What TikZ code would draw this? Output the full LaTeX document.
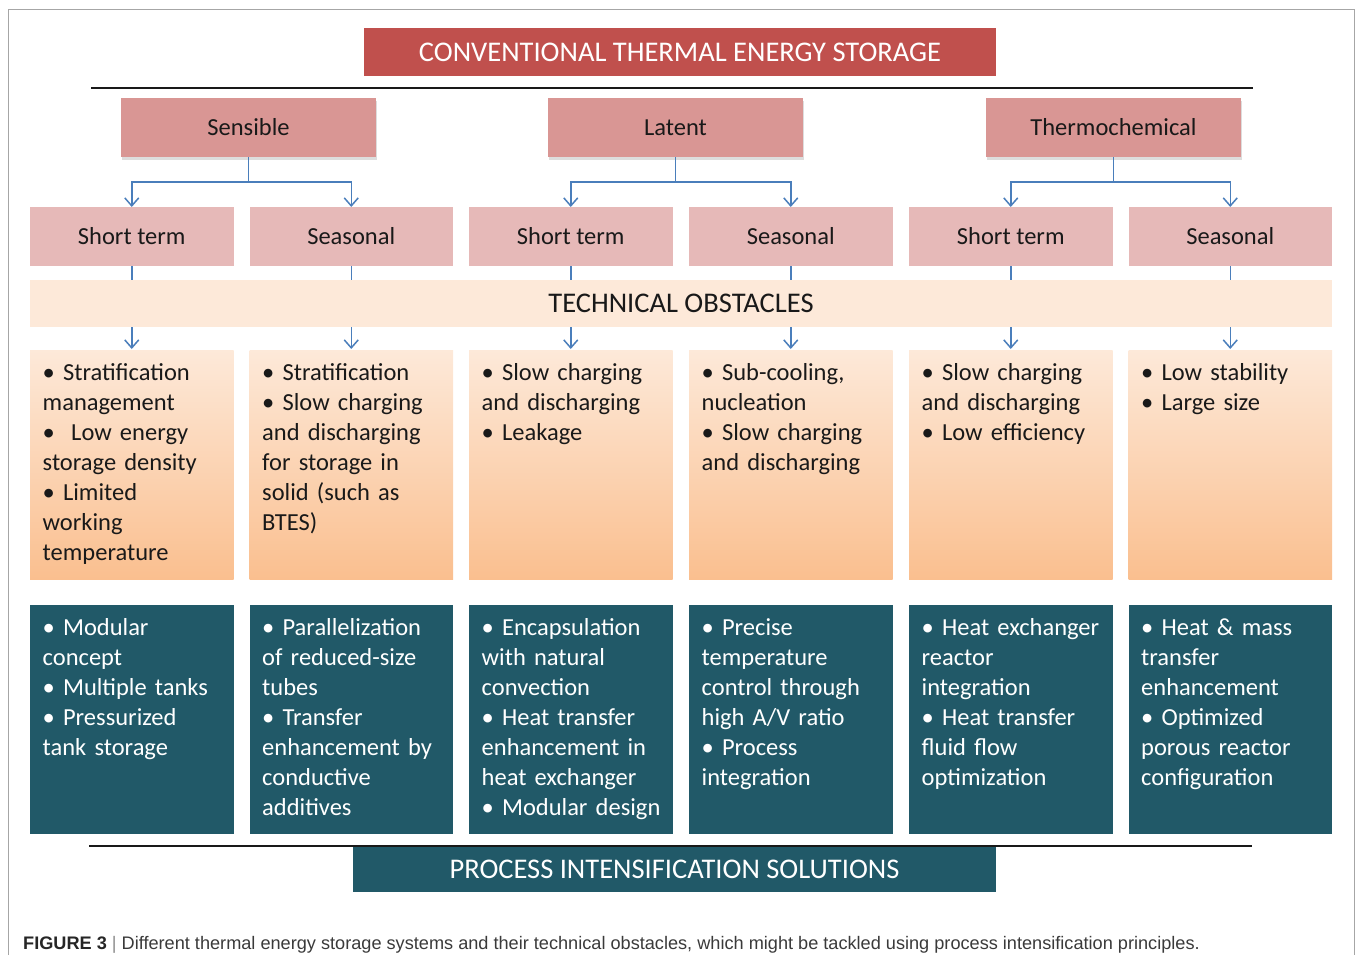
\documentclass[tikz,border=0pt]{standalone}
\usepackage{fontspec}
\setmainfont{Carlito}
\newfontfamily\capfont{Liberation Sans}
\usetikzlibrary{arrows.meta,shadows}
\definecolor{titlered}{HTML}{C0504D}
\definecolor{lvlone}{HTML}{D99694}
\definecolor{lvltwo}{HTML}{E6B9B8}
\definecolor{bandcol}{HTML}{FDE9D9}
\definecolor{gradtop}{HTML}{FDE9D9}
\definecolor{gradbot}{HTML}{FABF8F}
\definecolor{darkteal}{HTML}{215968}
\definecolor{conncol}{HTML}{4A7EBB}
\definecolor{framegray}{HTML}{A6A6A6}
\definecolor{captext}{HTML}{3A3A3A}
\newcommand\mybodyfont{\fontsize{24.5}{30}\selectfont}
\newcommand\myheadfont{\fontsize{28.5}{34}\selectfont}
\begin{document}
\begin{tikzpicture}[x=1pt,y=-1pt,
  base/.style={anchor=north west, inner sep=0pt, outer sep=0pt, draw=none},
  titlebox/.style={base, fill=titlered, text=white, font=\myheadfont, minimum width=632pt, minimum height=48pt},
  levelone/.style={base, fill=lvlone, text=black!90, font=\mybodyfont, minimum width=255pt, minimum height=59pt,
    drop shadow={shadow xshift=1pt, shadow yshift=-3pt, opacity=0.22, fill=black!60}},
  leveltwo/.style={base, fill=lvltwo, text=black!90, font=\mybodyfont, minimum width=203.5pt, minimum height=59pt},
  bandbox/.style={base, fill=bandcol, text=black!90, font=\myheadfont, minimum width=1302pt, minimum height=47pt},
  obox/.style={base, top color=gradtop, bottom color=gradbot, minimum width=203.5pt, minimum height=229pt},
  sbox/.style={base, fill=darkteal, minimum width=203.5pt, minimum height=229pt},
  otext/.style={anchor=base west, inner sep=0pt, text width=250pt, align=left, font=\mybodyfont, text=black!90},
  stext/.style={otext, text=white},
  bottombox/.style={base, fill=darkteal, text=white, font=\myheadfont, minimum width=643pt, minimum height=45pt},
  conn/.style={draw=conncol, line width=1.5pt},
  arr/.style={conn, -{Straight Barb[length=8pt,width=14pt]}},
  rule/.style={draw=black!90, line width=2pt}
]
\useasboundingbox (0,0) rectangle (1356,955);
\draw[framegray, line width=1pt] (8,955) -- (8,10) -- (1354,10) -- (1354,955);

% title
\node[titlebox] (title) at (364,28) {CONVENTIONAL THERMAL ENERGY STORAGE};
\coordinate (r1a) at (91,88);
\coordinate (r1b) at (1253,88);
\draw[rule] (r1a) -- (r1b);

% level one
\node[levelone] (sens) at (121,98) {Sensible};
\node[levelone] (lat) at (548,98) {Latent};
\node[levelone] (thermo) at (986,98) {Thermochemical};

% level two
\node[leveltwo] (s1) at (30,207) {Short term};
\node[leveltwo] (s2) at (249.5,207) {Seasonal};
\node[leveltwo] (s3) at (469,207) {Short term};
\node[leveltwo] (s4) at (689,207) {Seasonal};
\node[leveltwo] (s5) at (909,207) {Short term};
\node[leveltwo] (s6) at (1128.5,207) {Seasonal};

\draw[arr] (sens.south) -- ++(0,25) -| (s1.north);
\draw[arr] (sens.south) -- ++(0,25) -| (s2.north);
\draw[arr] (lat.south) -- ++(0,25) -| (s3.north);
\draw[arr] (lat.south) -- ++(0,25) -| (s4.north);
\draw[arr] (thermo.south) -- ++(0,25) -| (s5.north);
\draw[arr] (thermo.south) -- ++(0,25) -| (s6.north);

% band
\node[bandbox] (band) at (30,280) {TECHNICAL OBSTACLES};

% obstacle boxes
\node[obox] (o1) at (30,350) {};
\node[obox] (o2) at (249.5,350) {};
\node[obox] (o3) at (469,350) {};
\node[obox] (o4) at (689,350) {};
\node[obox] (o5) at (909,350) {};
\node[obox] (o6) at (1128.5,350) {};

\foreach \i in {1,...,6}{
  \draw[conn] (s\i.south) -- (s\i.south |- band.north);
  \draw[arr, shorten >=1pt] (band.south -| o\i.north) -- (o\i.north);
}

\node[otext] (ot1) at ([shift={(12.5pt,-30pt)}]o1.north west) {\textbullet{} Stratification\\management\\\textbullet{}\ \ Low energy\\storage density\\\textbullet{} Limited\\working\\temperature};
\node[otext] (ot2) at ([shift={(12.5pt,-30pt)}]o2.north west) {\textbullet{} Stratification\\\textbullet{} Slow charging\\and discharging\\for storage in\\solid (such as\\BTES)};
\node[otext] (ot3) at ([shift={(12.5pt,-30pt)}]o3.north west) {\textbullet{} Slow charging\\and discharging\\\textbullet{} Leakage};
\node[otext] (ot4) at ([shift={(12.5pt,-30pt)}]o4.north west) {\textbullet{} Sub-cooling,\\nucleation\\\textbullet{} Slow charging\\and discharging};
\node[otext] (ot5) at ([shift={(12.5pt,-30pt)}]o5.north west) {\textbullet{} Slow charging\\and discharging\\\textbullet{} Low efficiency};
\node[otext] (ot6) at ([shift={(12.5pt,-30pt)}]o6.north west) {\textbullet{} Low stability\\\textbullet{} Large size};

% solution boxes
\node[sbox] (p1) at (30,605) {};
\node[sbox] (p2) at (249.5,605) {};
\node[sbox] (p3) at (469,605) {};
\node[sbox] (p4) at (689,605) {};
\node[sbox] (p5) at (909,605) {};
\node[sbox] (p6) at (1128.5,605) {};

\node[stext] (pt1) at ([shift={(12.5pt,-30pt)}]p1.north west) {\textbullet{} Modular\\concept\\\textbullet{} Multiple tanks\\\textbullet{} Pressurized\\tank storage};
\node[stext] (pt2) at ([shift={(12.5pt,-30pt)}]p2.north west) {\textbullet{} Parallelization\\of reduced-size\\tubes\\\textbullet{} Transfer\\enhancement by\\conductive\\additives};
\node[stext] (pt3) at ([shift={(12.5pt,-30pt)}]p3.north west) {\textbullet{} Encapsulation\\with natural\\convection\\\textbullet{} Heat transfer\\enhancement in\\heat exchanger\\\textbullet{} Modular design};
\node[stext] (pt4) at ([shift={(12.5pt,-30pt)}]p4.north west) {\textbullet{} Precise\\temperature\\control through\\high A/V ratio\\\textbullet{} Process\\integration};
\node[stext] (pt5) at ([shift={(12.5pt,-30pt)}]p5.north west) {\textbullet{} Heat exchanger\\reactor\\integration\\\textbullet{} Heat transfer\\fluid flow\\optimization};
\node[stext] (pt6) at ([shift={(12.5pt,-30pt)}]p6.north west) {\textbullet{} Heat \& mass\\transfer\\enhancement\\\textbullet{} Optimized\\porous reactor\\configuration};

% bottom
\coordinate (r2a) at (89,846);
\coordinate (r2b) at (1252,846);
\draw[rule] (r2a) -- (r2b);
\node[bottombox] (pis) at (353,847) {PROCESS INTENSIFICATION SOLUTIONS};

% caption
\node[anchor=base west, inner sep=0pt, font=\capfont\fontsize{18.15}{22}\selectfont, text=captext] (cap) at (23,949)
  {\textbf{\color{black!85}FIGURE 3} {\color{black!45}|} Different thermal energy storage systems and their technical obstacles, which might be tackled using process intensification principles.};
\end{tikzpicture}
\end{document}
